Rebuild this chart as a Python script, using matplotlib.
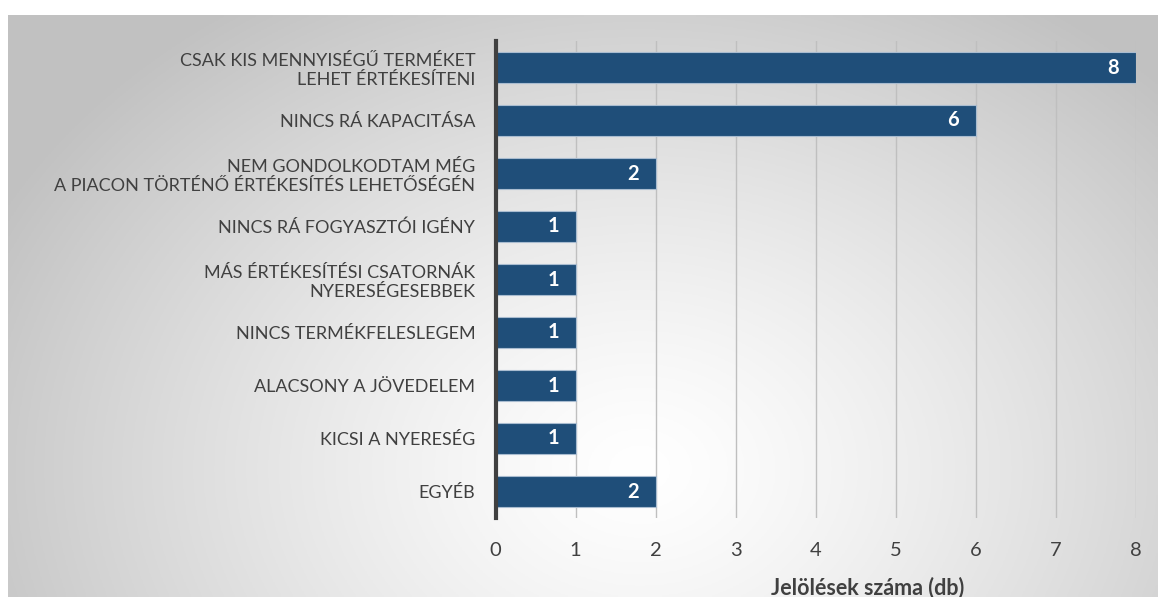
import numpy as np
import matplotlib
matplotlib.use("Agg")
import matplotlib.pyplot as plt

categories = [
    "CSAK KIS MENNYISÉGŰ TERMÉKET\nLEHET ÉRTÉKESÍTENI",
    "NINCS RÁ KAPACITÁSA",
    "NEM GONDOLKODTAM MÉG\nA PIACON TÖRTÉNŐ ÉRTÉKESÍTÉS LEHETŐSÉGÉN",
    "NINCS RÁ FOGYASZTÓI IGÉNY",
    "MÁS ÉRTÉKESÍTÉSI CSATORNÁK\nNYERESÉGESEBBEK",
    "NINCS TERMÉKFELESLEGEM",
    "ALACSONY A JÖVEDELEM",
    "KICSI A NYERESÉG",
    "EGYÉB",
]
values = [8, 6, 2, 1, 1, 1, 1, 1, 2]
x_ticks = [0, 1, 2, 3, 4, 5, 6, 7, 8]
x_label = "Jelölések száma (db)"

W, H = 1158, 597
fig = plt.figure(figsize=(W / 100, H / 100), dpi=100)
fig.patch.set_facecolor("white")

# background panel with radial gradient
bg = fig.add_axes([8 / W, 0, 1 - 8 / W, 1 - 15 / H])
bg.set_axis_off()
nx, ny = 400, 200
xs = np.linspace(8, W, nx)
ys = np.linspace(15, H, ny)
X, Y = np.meshgrid(xs, ys)
cx, cy = 640, 470
d = np.sqrt(((X - cx) / 720) ** 2 + ((Y - cy) / 560) ** 2)
g = 1.0 - 0.24 * np.clip(d, 0, 1) ** 1.3
img = np.dstack([g, g, g])
bg.imshow(img, aspect="auto", extent=[0, 1, 0, 1], origin="upper")
bg.set_xlim(0, 1)
bg.set_ylim(0, 1)

plt.rcParams["font.family"] = ["Lato", "DejaVu Sans"]

left, right = 495.5 / W, 1135.5 / W
top, bottom = 1 - 41 / H, 1 - 518 / H
ax = fig.add_axes([left, bottom, right - left, top - bottom])
ax.patch.set_alpha(0)

ypos = np.arange(len(categories))
bars = ax.barh(ypos, values, height=0.575, color="#1F4E79",
               edgecolor="#A9BCD0", linewidth=0.8, zorder=3)
ax.set_ylim(len(categories) - 0.5, -0.5)
ax.set_xlim(0, 8)
ax.set_xticks(x_ticks)
ax.set_xticklabels([str(t) for t in x_ticks], fontsize=14.5, color="#404040")
ax.set_yticks(ypos)
ax.set_yticklabels(categories, fontsize=13, color="#404040", linespacing=1.2)
ax.tick_params(axis="both", length=0)
ax.tick_params(axis="y", pad=14.5)
ax.tick_params(axis="x", pad=17)

ax.grid(axis="x", color="#BFBFBF", linewidth=1.0, zorder=0)
ax.grid(axis="y", visible=False)
for s in ["top", "right", "bottom"]:
    ax.spines[s].set_visible(False)
ax.spines["left"].set_color("#404040")
ax.spines["left"].set_linewidth(3)
ax.spines["left"].set_zorder(4)

for b, v in zip(bars, values):
    ax.annotate(str(v), xy=(v, b.get_y() + b.get_height() / 2),
                xytext=(-12, 0), textcoords="offset points",
                ha="right", va="center", color="white",
                fontsize=14.5, fontweight="bold", zorder=5)

ax.set_xlabel(x_label, fontsize=15.5, fontweight="bold", color="#404040")
ax.xaxis.set_label_coords((868 - 495.5) / 640, -0.122)

fig.savefig("out.png", dpi=100, facecolor=fig.get_facecolor())
